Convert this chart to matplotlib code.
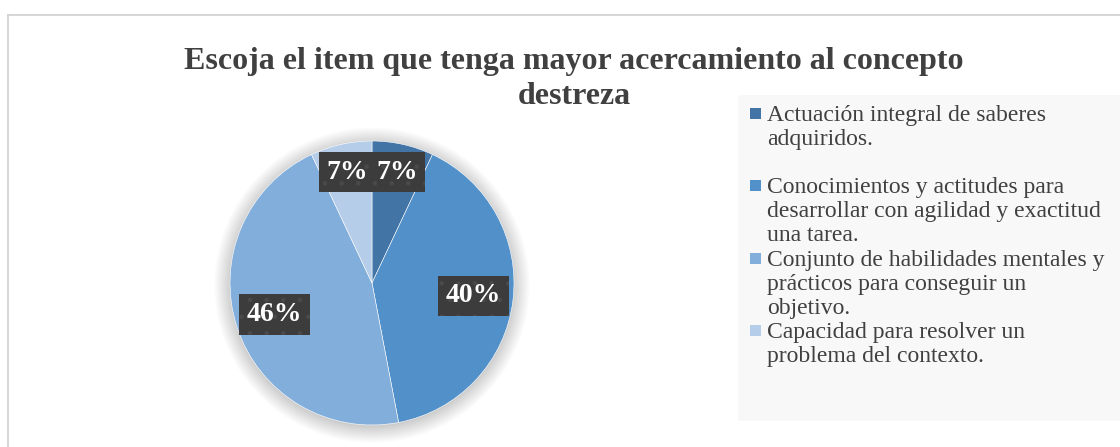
import numpy as np
import matplotlib.pyplot as plt
from matplotlib.patches import Rectangle, Circle

# data
categories = [
    'Actuación integral de saberes\nadquiridos.',
    'Conocimientos y actitudes para\ndesarrollar con agilidad y exactitud\nuna tarea.',
    'Conjunto de habilidades mentales y\nprácticos para conseguir un\nobjetivo.',
    'Capacidad para resolver un\nproblema del contexto.',
]
percentages = [7, 40, 46, 7]
pct_labels = ['7%', '40%', '46%', '7%']
colors = ['#4374A6', '#5190C8', '#82AEDC', '#B5CDE9']

title = 'Escoja el item que tenga mayor acercamiento al concepto\ndestreza'

plt.rcParams['font.family'] = ['Liberation Serif', 'DejaVu Serif']
plt.rcParams['hatch.linewidth'] = 0.8

fig = plt.figure(figsize=(11.2, 4.47), dpi=100)

# chart border (top / left) and legend background
fig.add_artist(plt.Line2D([8 / 1120, 8 / 1120], [0, 1 - 15 / 447],
                          transform=fig.transFigure, color='#D0D0D0', lw=1.2))
fig.add_artist(plt.Line2D([8 / 1120, 1], [1 - 15 / 447, 1 - 15 / 447],
                          transform=fig.transFigure, color='#D0D0D0', lw=1.2))
fig.add_artist(Rectangle((738 / 1120, 26 / 447), 1 - 738 / 1120, 326 / 447,
                         transform=fig.transFigure, facecolor='#F8F8F8',
                         edgecolor='none', zorder=0))

fig.text(574 / 1120, 1 - 79 / 447, title, ha='center', va='center',
         fontsize=23, fontweight='bold', color='#404040', linespacing=1.29)

# pie axes
cx, cy, r = 372, 447 - 283, 142
ax = fig.add_axes([(cx - r) / 1120, (cy - r) / 447, 2 * r / 1120, 2 * r / 447])

# soft shadow
for k in range(10):
    ax.add_patch(Circle((0.0, -0.015), 1.0 + 0.012 * k, color='black',
                        alpha=0.018, lw=0, zorder=0, clip_on=False))

wedges, _ = ax.pie(percentages, colors=colors, startangle=90, counterclock=False,
                   radius=1.0, wedgeprops=dict(edgecolor='#FFFFFF', linewidth=0.4))
for w in wedges:
    w.set_zorder(2)
ax.set_xlim(-1, 1)
ax.set_ylim(-1, 1)
ax.set_aspect('equal')
ax.axis('off')

dists = [0.8, 0.72, 0.72, 0.8]
for w, lab, d in zip(wedges, pct_labels, dists):
    mid = np.deg2rad((w.theta1 + w.theta2) / 2)
    ax.text(d * np.cos(mid), d * np.sin(mid), lab, ha='center', va='center',
            fontsize=20, fontweight='bold', color='white', zorder=5,
            bbox=dict(boxstyle='square,pad=0.28', facecolor='#3C3C3C',
                      edgecolor='#4A4A4A', linewidth=0, hatch='.'))

# legend
legend_tops = [113, 185, 258, 330]
for lab, col, ty in zip(categories, colors, legend_tops):
    fig.add_artist(Rectangle((750 / 1120, 1 - (ty + 6) / 447), 11 / 1120, 11 / 447,
                             transform=fig.transFigure, facecolor=col,
                             edgecolor='none'))
    fig.text(767 / 1120, 1 - (ty - 8) / 447, lab, ha='left', va='top',
             fontsize=17, color='#404040', linespacing=1.2)

plt.savefig('out.png', dpi=100)
